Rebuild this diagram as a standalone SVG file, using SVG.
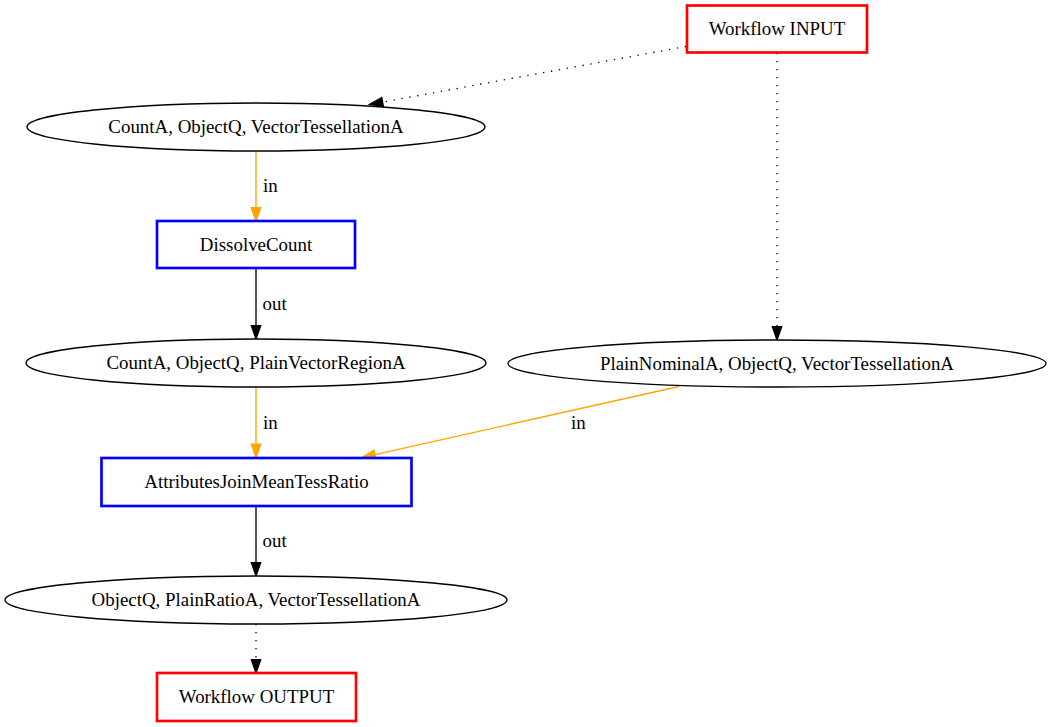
<svg xmlns="http://www.w3.org/2000/svg" width="1051" height="727" viewBox="0 0 1051 727">
  <style>
    text { font-family: "Liberation Serif", "Times New Roman", serif; font-size: 18.9px; fill: #000; }
    .node-label { text-anchor: middle; }
    .edge-label { text-anchor: start; }
    .io { fill: #fff; stroke: #ff0000; stroke-width: 2.67; }
    .op { fill: #fff; stroke: #0000ff; stroke-width: 2.67; }
    .data { fill: #fff; stroke: #000; stroke-width: 1.33; }
    .edge { fill: none; stroke-width: 1.33; }
    .black { stroke: #000; }
    .orange { stroke: #ffa500; }
    .dotted { stroke: #000; stroke-dasharray: 1.33 6.67; }
  </style>
  <defs>
    <marker id="arrow-black" markerUnits="userSpaceOnUse" markerWidth="16" markerHeight="12" refX="0" refY="0" viewBox="0 -6 16 12" orient="auto" overflow="visible">
      <path d="M0,-4.67 L13.3,0 L0,4.67 Z" fill="#000" stroke="#000" stroke-width="1.33"/>
    </marker>
    <marker id="arrow-orange" markerUnits="userSpaceOnUse" markerWidth="16" markerHeight="12" refX="0" refY="0" viewBox="0 -6 16 12" orient="auto" overflow="visible">
      <path d="M0,-4.67 L13.3,0 L0,4.67 Z" fill="#ffa500" stroke="#ffa500" stroke-width="1.33"/>
    </marker>
  </defs>
  <rect width="1051" height="727" fill="#fff"/>

  <g id="edges">
    <path class="edge dotted" d="M686,46.5 L382.6,102.1" marker-end="url(#arrow-black)"/>
    <path class="edge dotted" d="M777,53 L777,326.7" marker-end="url(#arrow-black)"/>
    <path class="edge orange" d="M256,151 L256,207.7" marker-end="url(#arrow-orange)"/>
    <text class="edge-label" x="263" y="191.5">in</text>
    <path class="edge black" d="M256,268.5 L256,325.7" marker-end="url(#arrow-black)"/>
    <text class="edge-label" x="262.5" y="310">out</text>
    <path class="edge orange" d="M256,387 L256,444.2" marker-end="url(#arrow-orange)"/>
    <text class="edge-label" x="263" y="428.5">in</text>
    <path class="edge orange" d="M679,386.5 L375,454.6" marker-end="url(#arrow-orange)"/>
    <text class="edge-label" x="571" y="428.5">in</text>
    <path class="edge black" d="M256,506 L256,562.7" marker-end="url(#arrow-black)"/>
    <text class="edge-label" x="262.5" y="547">out</text>
    <path class="edge dotted" d="M256,624 L256,659.7" marker-end="url(#arrow-black)"/>
  </g>

  <g id="workflow-input">
    <rect class="io" x="687" y="5.5" width="180" height="47"/>
    <text class="node-label" x="777" y="35">Workflow INPUT</text>
  </g>
  <g id="data-count-tessellation">
    <ellipse class="data" cx="256" cy="127" rx="229" ry="24"/>
    <text class="node-label" x="256" y="133">CountA, ObjectQ, VectorTessellationA</text>
  </g>
  <g id="dissolve-count">
    <rect class="op" x="157" y="221" width="198" height="47"/>
    <text class="node-label" x="256" y="251">DissolveCount</text>
  </g>
  <g id="data-count-region">
    <ellipse class="data" cx="256" cy="363" rx="230" ry="24"/>
    <text class="node-label" x="256" y="369">CountA, ObjectQ, PlainVectorRegionA</text>
  </g>
  <g id="data-nominal-tessellation">
    <ellipse class="data" cx="777" cy="363.5" rx="269" ry="23.5"/>
    <text class="node-label" x="777" y="369.5">PlainNominalA, ObjectQ, VectorTessellationA</text>
  </g>
  <g id="attributes-join">
    <rect class="op" x="101.5" y="458" width="310" height="48"/>
    <text class="node-label" x="256.5" y="488">AttributesJoinMeanTessRatio</text>
  </g>
  <g id="data-ratio-tessellation">
    <ellipse class="data" cx="256" cy="600" rx="251" ry="24"/>
    <text class="node-label" x="256" y="606">ObjectQ, PlainRatioA, VectorTessellationA</text>
  </g>
  <g id="workflow-output">
    <rect class="io" x="157" y="673" width="199" height="48"/>
    <text class="node-label" x="256.5" y="703">Workflow OUTPUT</text>
  </g>
</svg>
